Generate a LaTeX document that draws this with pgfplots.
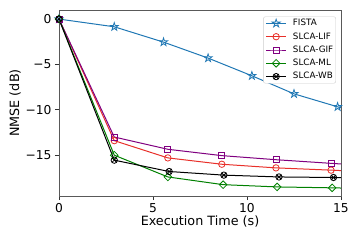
\documentclass[border=0pt]{standalone}
\usepackage{fontspec}
\setmainfont{DejaVu Sans}
\usepackage{pgfplots}
\pgfplotsset{compat=1.18}
\usetikzlibrary{plotmarks}
\definecolor{cblue}{HTML}{1F77B4}
\definecolor{cred}{HTML}{E8302A}
\definecolor{cpurple}{HTML}{800080}
\definecolor{cgreen}{HTML}{008000}
\newcommand{\tickfont}{\fontsize{12.3}{14}\selectfont}
\newcommand{\labfont}{\fontsize{12.8}{15}\selectfont}
\newcommand{\legfont}{\fontsize{8.8}{10}\selectfont}
\pgfdeclareplotmark{mystar}{%
  \pgfpathmoveto{\pgfpointpolar{90}{\pgfplotmarksize}}%
  \pgfpathlineto{\pgfpointpolar{126}{0.382\pgfplotmarksize}}%
  \pgfpathlineto{\pgfpointpolar{162}{\pgfplotmarksize}}%
  \pgfpathlineto{\pgfpointpolar{198}{0.382\pgfplotmarksize}}%
  \pgfpathlineto{\pgfpointpolar{234}{\pgfplotmarksize}}%
  \pgfpathlineto{\pgfpointpolar{270}{0.382\pgfplotmarksize}}%
  \pgfpathlineto{\pgfpointpolar{306}{\pgfplotmarksize}}%
  \pgfpathlineto{\pgfpointpolar{342}{0.382\pgfplotmarksize}}%
  \pgfpathlineto{\pgfpointpolar{18}{\pgfplotmarksize}}%
  \pgfpathlineto{\pgfpointpolar{54}{0.382\pgfplotmarksize}}%
  \pgfpathclose
  \pgfusepathqstroke}
\pgfdeclareplotmark{mydiamond}{%
  \pgfpathmoveto{\pgfqpoint{0pt}{\pgfplotmarksize}}%
  \pgfpathlineto{\pgfqpoint{\pgfplotmarksize}{0pt}}%
  \pgfpathlineto{\pgfqpoint{0pt}{-\pgfplotmarksize}}%
  \pgfpathlineto{\pgfqpoint{-\pgfplotmarksize}{0pt}}%
  \pgfpathclose
  \pgfusepathqstroke}
\begin{document}
\begin{tikzpicture}
\begin{axis}[name=ax, scale only axis, width=282bp, height=186bp,
  xmin=0, xmax=15, ymin=-19.5, ymax=1,
  xtick={0,5,10,15}, xticklabels={\tickfont 0,\tickfont 5,\tickfont 10,\tickfont 15},
  ytick={-15,-10,-5,0}, yticklabels={\tickfont −15,\tickfont −10,\tickfont −5,\tickfont 0},
  xtick pos=bottom, ytick pos=left, tick align=outside,
  major tick length=4bp,
  every tick/.style={black!80, line width=0.8bp},
  axis line style={black!65, line width=0.8bp},
  xlabel={\labfont Execution Time (s)}, ylabel={\labfont NMSE (dB)},
  every axis x label/.style={at={(axis description cs:0.5,-0.135)}, anchor=center},
  every axis y label/.style={at={(axis description cs:-0.156,0.5)}, rotate=90, anchor=center},
  legend style={at={(0.982,0.965)}, anchor=north east, draw=black!20, rounded corners=2bp,
    fill=white, inner xsep=2.5bp, inner ysep=2.5bp,
    row sep=5bp, nodes={inner sep=0pt, text height=6.5bp, text depth=1.8bp}},
  legend cell align=left,
  legend image code/.code={\draw[mark indices={2}] plot coordinates {(0bp,0bp) (9.7bp,0bp) (19.4bp,0bp)}; \path (26bp,0bp);},
  every axis plot/.append style={line width=1bp, mark options={solid, line width=0.8bp}},
]
\addplot[cblue, mark=mystar, mark size=4.2bp, mark indices={1,...,7}] coordinates {
  (0,0) (2.94,-0.85) (5.56,-2.54) (7.93,-4.30) (10.26,-6.25) (12.5,-8.24) (14.82,-9.67) (15,-9.78)};
\addlegendentry{\legfont FISTA}
\addplot[cred, mark=o, mark size=3.2bp, mark indices={1,...,6}] coordinates {
  (0,0) (2.94,-13.4) (5.79,-15.3) (8.66,-16.0) (11.54,-16.4) (14.47,-16.65) (15,-16.7)};
\addlegendentry{\legfont SLCA-LIF}
\addplot[cpurple, mark=square, mark size=3bp, mark indices={1,...,6}] coordinates {
  (0,0) (2.94,-13.0) (5.79,-14.35) (8.66,-15.05) (11.54,-15.5) (14.47,-15.9) (15,-15.97)};
\addlegendentry{\legfont SLCA-GIF}
\addplot[cgreen, mark=mydiamond, mark size=3.8bp, mark indices={1,...,6}] coordinates {
  (0,0) (2.94,-15.0) (5.79,-17.4) (8.73,-18.25) (11.6,-18.5) (14.53,-18.6) (15,-18.62)};
\addlegendentry{\legfont SLCA-ML}
\addplot[black, mark=otimes, mark size=3.2bp, mark indices={1,...,6}] coordinates {
  (0,0) (2.94,-15.55) (5.86,-16.8) (8.77,-17.2) (11.7,-17.4) (14.6,-17.46) (15,-17.47)};
\addlegendentry{\legfont SLCA-WB}
\end{axis}
\path (ax.south west) ++(-59bp,-44bp) rectangle ([shift={(19bp,10bp)}]ax.north east);
\end{tikzpicture}
\end{document}
